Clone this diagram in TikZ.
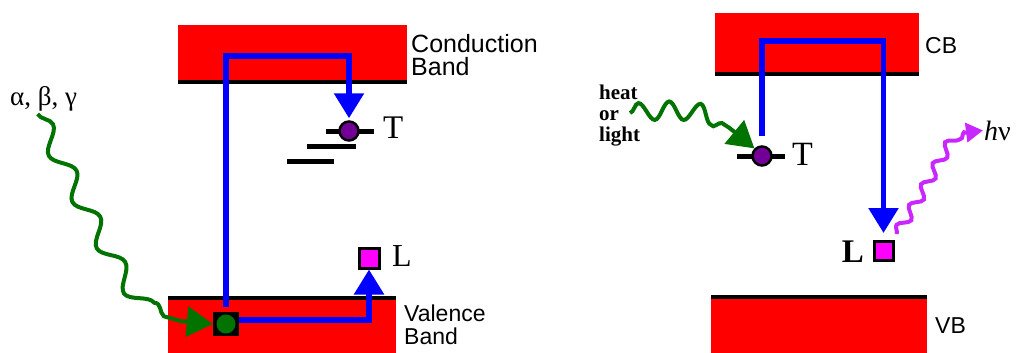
\documentclass[tikz,border=0pt]{standalone}
\usepackage{fontspec}
\setmainfont{Liberation Serif}
\newfontfamily\bandfont{Liberation Sans}
\usetikzlibrary{arrows.meta,decorations.pathmorphing}
\definecolor{bandred}{RGB}{255,0,0}
\definecolor{jumpblue}{RGB}{0,0,255}
\definecolor{wavegreen}{RGB}{0,115,0}
\definecolor{trappurple}{RGB}{115,0,150}
\definecolor{lummagenta}{RGB}{255,0,255}
\definecolor{photonviolet}{RGB}{200,40,255}
\tikzset{
  bandtext/.style={anchor=west, inner sep=0pt, align=left,
    font=\bandfont\fontsize{#1}{23pt}\selectfont},
  bandtext/.default=23pt,
  bandedge/.style={line width=4.5pt},
  traplevel/.style={line width=5pt},
  trapdot/.style={circle, draw=black, line width=2.5pt, fill=trappurple,
    minimum size=19pt, inner sep=0pt},
  excbox/.style={rectangle, fill=black, minimum width=26pt, minimum height=24pt,
    inner sep=0pt, path picture={\fill[wavegreen] (path picture bounding box.center) circle (9.5pt);}},
  lumbox/.style={rectangle, draw=black, line width=3pt, fill=lummagenta,
    minimum size=20pt, inner sep=0pt},
  bluejump/.style={draw=jumpblue, line width=5.5pt, -{Triangle[length=25pt,width=29pt]}},
  gwave/.style={draw=wavegreen, line width=4pt, decorate,
    decoration={snake, segment length=#1, amplitude=9pt, post length=32pt},
    -{Triangle[length=26pt,width=30pt]}},
  vwave/.style={draw=photonviolet, line width=4pt, decorate,
    decoration={snake, segment length=24pt, amplitude=5pt, post length=18pt},
    -{Triangle[length=17pt,width=19pt]}},
  serif/.style={inner sep=0pt, font=\fontsize{#1}{#1}\selectfont}
}
\begin{document}
\begin{tikzpicture}[x=1pt, y=-1pt]
  \useasboundingbox (0,0) rectangle (1017,353);
  % trapping by ionising radiation
  \fill[bandred] (178,25) rectangle (407,80);
  \draw[bandedge] (178,82) -- (407,82);
  \fill[bandred] (168,299) rectangle (396,353);
  \draw[bandedge] (168,298) -- (396,298);
  \node[bandtext=25pt] (cbL) at (411,55) {Conduction\\Band};
  \node[bandtext] (vbL) at (404,325) {Valence\\Band};
  \draw[traplevel] (326,131) -- (374,131);
  \draw[traplevel] (307,146) -- (356,146);
  \draw[traplevel] (287,161) -- (334,161);
  \node[trapdot] (dotL) at (349,131) {};
  \node[serif=33pt, anchor=base west] (TL) at (383,138) {T};
  \node[excbox] (excL) at (226,324) {};
  \node[lumbox] (lumL) at (369,258) {};
  \node[serif=32pt, anchor=base west] (LL) at (392,266) {L};
  \node[serif=27pt, anchor=base west] (rad) at (10,105) {α, β, γ};
  \draw[gwave=52pt] ([xshift=-6pt,yshift=-3pt]rad.south) .. controls (125,285) and (140,326) .. (excL.west);
  \draw[bluejump, shorten <=5pt, shorten >=2pt] (excL.north) -- ++(0,-256) -| (dotL.north);
  \draw[bluejump] ([yshift=4pt]excL.east) -| (lumL.south);
  % release by heat or light
  \fill[bandred] (715,13) rectangle (919,72);
  \draw[bandedge] (715,74) -- (919,74);
  \fill[bandred] (711,299) rectangle (927,353);
  \draw[bandedge] (711,297) -- (927,297);
  \node[bandtext, anchor=base west] (cbR) at (925,53) {CB};
  \node[bandtext, anchor=base west] (vbR) at (935,333) {VB};
  \draw[traplevel] (737,156) -- (785,156);
  \node[trapdot] (dotR) at (762,156) {};
  \node[serif=34pt, anchor=base west] (TR) at (792,165) {T};
  \node[lumbox, minimum size=19pt] (lumR) at (883.5,251) {};
  \node[serif=33pt, anchor=base east] (LR) at (864,262) {\bfseries L};
  \node[anchor=west, align=left, inner sep=0pt, font=\bfseries\fontsize{21pt}{21pt}\selectfont]
    (heat) at (599,116) {heat\\or\\light};
  \coordinate (heatsrc) at (630,113);
  \draw[gwave=30pt] (heatsrc) .. controls (700,106) and (725,120) .. (dotR.north west);
  \draw[bluejump, shorten <=9pt, shorten >=7pt] (dotR.north) -- ++(0,-104) -| (lumR.north);
  \node[serif=28pt, anchor=base west, inner sep=1pt] (hnu) at (983,140) {\textit{h}ν};
  \draw[vwave] ([xshift=2pt,yshift=6pt]lumR.north east) .. controls (945,160) and (945,128) .. (hnu.west);
\end{tikzpicture}
\end{document}
